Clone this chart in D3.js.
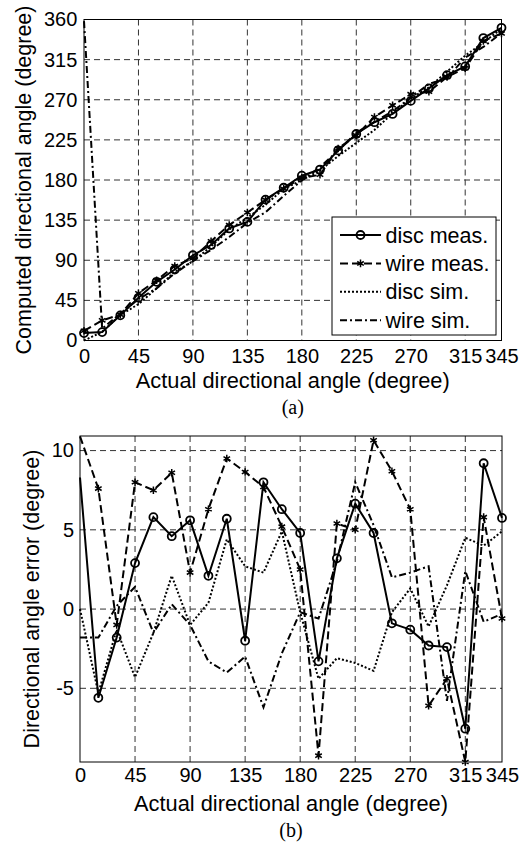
<!DOCTYPE html>
<html>
<head>
<meta charset="utf-8">
<script src="https://cdn.jsdelivr.net/npm/d3@7"></script>
<style>
	body { margin: 0; background: #fff; }
	svg { font-family: Arial, "Liberation Sans", sans-serif; }
	.grid line { stroke: #333; stroke-width: 1; stroke-dasharray: 6,4; }
	.frame { fill: none; stroke: #000; stroke-width: 1; }
	.series { fill: none; stroke: #000; stroke-width: 2; }
	.caption { font-family: "Times New Roman", "Liberation Serif", serif; font-size: 20px; }
</style>
</head>
<body>
<svg id="chart" width="530" height="842"></svg>
<script>
// actual angles (x values, both panels)
var angles = [0, 15, 30, 45, 60, 75, 90, 105, 120, 135, 150, 165, 180, 195, 210, 225, 240, 255, 270, 285, 300, 315, 330, 345];
var xTicks = [0, 45, 90, 135, 180, 225, 270, 315, 345];

// (a) computed directional angle
var compDiscMeas = [8.3, 9.4, 28.2, 47.9, 65.8, 79.6, 95.6, 107.1, 125.7, 133, 158, 171.3, 184.8, 191.7, 213.2, 231.6, 244.8, 254.1, 268.7, 282.7, 297.6, 307.4, 339.2, 350.7];
var compWireMeas = [10.9, 22.6, 29, 53, 67.5, 83.6, 92.3, 111.3, 129.5, 143.6, 157.7, 170.2, 182.5, 185.8, 215.4, 230, 250.6, 263.7, 276.3, 278.9, 295.6, 305.3, 335.8, 344.4];
var compDiscSim = [0, 9.7, 28.7, 40.7, 58.5, 77.1, 89, 105.4, 124.4, 137.7, 152.3, 169.9, 179.8, 190.6, 206.9, 221.6, 236.1, 254.8, 271.3, 283.9, 301.5, 319.5, 334, 349.9];
var compWireSim = [358.2, 13.2, 30.2, 46.4, 58.5, 75.3, 89, 101.7, 116, 132, 143.8, 162.2, 179.8, 194.4, 213, 233, 245.3, 257, 272.3, 287.7, 294.2, 317.4, 329.2, 344.7];
var yTicksA = [0, 45, 90, 135, 180, 225, 270, 315, 360];

// (b) directional angle error
var errDiscMeas = [8.3, -5.6, -1.8, 2.9, 5.8, 4.6, 5.6, 2.1, 5.7, -2.0, 8.0, 6.3, 4.8, -3.3, 3.2, 6.65, 4.8, -0.9, -1.3, -2.3, -2.4, -7.55, 9.2, 5.75];
var errWireMeas = [10.9, 7.6, -1.0, 8.0, 7.5, 8.6, 2.3, 6.3, 9.5, 8.65, 7.7, 5.2, 2.5, -9.25, 5.4, 5.0, 10.65, 8.7, 6.3, -6.1, -4.4, -9.65, 5.8, -0.6];
var errDiscSim = [0.0, -5.3, -1.3, -4.3, -1.5, 2.1, -1.0, 0.4, 4.4, 2.7, 2.3, 4.9, -0.2, -4.4, -3.1, -3.4, -3.9, -0.2, 1.3, -1.1, 1.5, 4.5, 4.0, 4.9];
var errWireSim = [-1.8, -1.8, 0.2, 1.4, -1.5, 0.3, -1.0, -3.3, -4.0, -3.0, -6.2, -2.8, -0.2, -0.6, 3.0, 8.0, 5.3, 2.0, 2.3, 2.7, -5.8, 2.4, -0.8, -0.3];
var yTicksB = [-5, 0, 5, 10];

var seriesNames = ["disc meas.", "wire meas.", "disc sim.", "wire sim."];
var dashes = [null, "8,4", "2,2", "7,3,2,3"];
var markers = ["circle", "star", null, null];

var svg = d3.select("#chart");

function drawMarker(g, kind, px, py) {
	if (kind == "circle") {
		g.append("circle").attr("cx", px).attr("cy", py).attr("r", 4)
			.attr("fill", "none").attr("stroke", "#000").attr("stroke-width", 1.8);
	} else if (kind == "star") {
		g.append("path").attr("d", d3.symbol().type(d3.symbolAsterisk).size(40)())
			.attr("transform", "translate(" + px + "," + py + ")")
			.attr("fill", "none").attr("stroke", "#000").attr("stroke-width", 1.5);
	}
}

function panel(opt) {
	var x = d3.scaleLinear().domain([0, 345]).range([opt.left, opt.right]);
	var y = d3.scaleLinear().domain(opt.yDomain).range([opt.bottom, opt.top]);
	var g = svg.append("g");

	// dashed grid
	var grid = g.append("g").attr("class", "grid");
	grid.selectAll(".gx").data(xTicks.slice(1, -1)).enter().append("line")
		.attr("x1", function (d) { return x(d); }).attr("x2", function (d) { return x(d); })
		.attr("y1", opt.top).attr("y2", opt.bottom);
	grid.selectAll(".gy").data(opt.yTicks.filter(function (d) { return y(d) < opt.bottom - 1 && y(d) > opt.top + 1; }))
		.enter().append("line")
		.attr("x1", opt.left).attr("x2", opt.right)
		.attr("y1", function (d) { return y(d); }).attr("y2", function (d) { return y(d); });

	// axes (labels only, the frame is drawn below)
	var ax = g.append("g").attr("transform", "translate(0," + opt.bottom + ")")
		.call(d3.axisBottom(x).tickValues(xTicks).tickSize(0).tickPadding(opt.xPad));
	var ay = g.append("g").attr("transform", "translate(" + opt.left + ",0)")
		.call(d3.axisLeft(y).tickValues(opt.yTicks).tickSize(0).tickPadding(opt.yPad)
			.tickFormat(function (d) { return String(d); }));
	[ax, ay].forEach(function (a) {
		a.select(".domain").remove();
		a.attr("font-family", null).attr("font-size", null);
		a.selectAll("text").style("font-size", "20px").attr("fill", "#000");
	});

	g.append("rect").attr("class", "frame")
		.attr("x", opt.left).attr("y", opt.top)
		.attr("width", opt.right - opt.left).attr("height", opt.bottom - opt.top);

	// series
	var line = d3.line().x(function (d) { return x(d[0]); }).y(function (d) { return y(d[1]); });
	opt.series.forEach(function (vals, i) {
		var pts = angles.map(function (a, j) { return [a, vals[j]]; });
		g.append("path").attr("class", "series").attr("d", line(pts))
			.attr("stroke-dasharray", dashes[i]);
		pts.forEach(function (p, j) {
			if (j == 0 && opt.skipFirstMarker) return;
			drawMarker(g, markers[i], x(p[0]), y(p[1]));
		});
	});

	// axis titles
	g.append("text").attr("x", (opt.left + opt.right) / 2).attr("y", opt.xTitleY)
		.attr("text-anchor", "middle").style("font-size", "21.8px").text("Actual directional angle (degree)");
	g.append("text").attr("transform", "translate(" + opt.yTitleX + "," + (opt.top + opt.bottom) / 2 + ") rotate(-90)")
		.attr("text-anchor", "middle").style("font-size", "21.5px").text(opt.yTitle);
	g.append("text").attr("class", "caption").attr("x", (opt.left + opt.right) / 2).attr("y", opt.captionY)
		.attr("text-anchor", "middle").text(opt.caption);
	return g;
}

var gA = panel({
	left: 84, right: 501.5, top: 19.5, bottom: 340.5,
	yDomain: [0, 360], yTicks: yTicksA, xPad: 8.5, yPad: 6.7,
	series: [compDiscMeas, compWireMeas, compDiscSim, compWireSim],
	yTitle: "Computed directional angle (degree)", yTitleX: 31,
	xTitleY: 388, caption: "(a)", captionY: 414
});

panel({
	left: 80, right: 502, top: 436, bottom: 762,
	yDomain: [-9.65, 10.92], yTicks: yTicksB, xPad: 5.5, yPad: 6,
	series: [errDiscMeas, errWireMeas, errDiscSim, errWireSim], skipFirstMarker: true,
	yTitle: "Directional angle error (degree)", yTitleX: 39,
	xTitleY: 811, caption: "(b)", captionY: 837
});

// legend in panel (a)
var lg = gA.append("g");
lg.append("rect").attr("x", 332).attr("y", 217).attr("width", 164).attr("height", 118)
	.attr("fill", "#fff").attr("stroke", "#000").attr("stroke-width", 1);
seriesNames.forEach(function (name, i) {
	var ly = 235 + i * 28.4;
	lg.append("line").attr("class", "series").attr("x1", 340).attr("x2", 381)
		.attr("y1", ly).attr("y2", ly).attr("stroke-dasharray", dashes[i]);
	drawMarker(lg, markers[i], 360.5, ly);
	lg.append("text").attr("x", 385.5).attr("y", ly).attr("dy", "0.35em")
		.style("font-size", "21.5px").text(name);
});
</script>
</body>
</html>
